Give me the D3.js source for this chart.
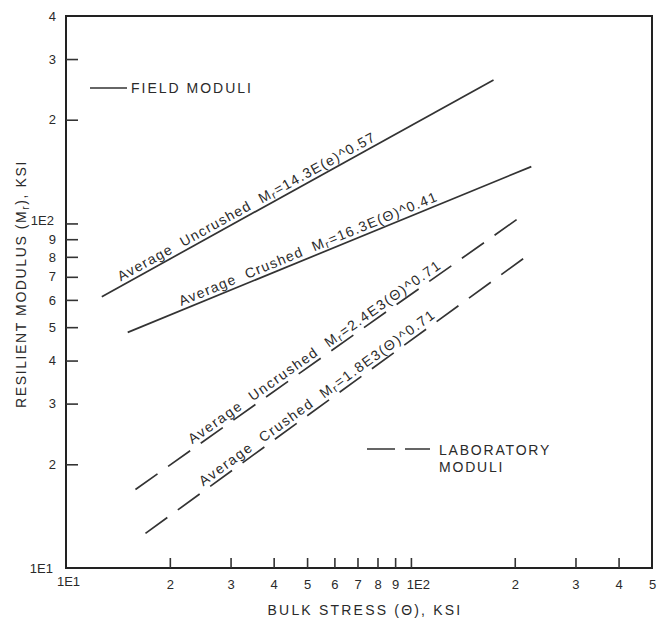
<!DOCTYPE html>
<html lang="en">
<head>
<meta charset="UTF-8">
<title>resilient-modulus</title>
<script src="https://cdn.jsdelivr.net/npm/d3@7"></script>
<style>
  body { margin: 0; background: #fff; }
  text { font-family: "Liberation Sans", Arial, sans-serif; fill: #2a2a2a; }
</style>
</head>
<body>
<svg id="chart" width="666" height="623"></svg>
<script>
// axis ticks (log scales, 1E1 .. 5E2 and 1E1 .. 4E2)
const xTickValues = [10, 20, 30, 40, 50, 60, 70, 80, 90, 100, 200, 300, 400, 500];
const xTickText = ["1E1", "2", "3", "4", "5", "6", "7", "8", "9", "1E2", "2", "3", "4", "5"];
const yTickValues = [10, 20, 30, 40, 50, 60, 70, 80, 90, 100, 200, 300, 400];
const yTickText = ["1E1", "2", "3", "4", "5", "6", "7", "8", "9", "1E2", "2", "3", "4"];

// lines: [bulk stress, modulus] end points
const fieldUncrushed = [[12.7, 61.3], [173.6, 261.0]];
const fieldCrushed = [[15.1, 48.3], [223.4, 146.2]];
const labUncrushed = [[15.9, 16.9], [204.4, 103.3]];
const labCrushed = [[17.0, 12.6], [217.0, 80.5]];

const lineNames = ["fieldUncrushed", "fieldCrushed", "labUncrushed", "labCrushed"];
const lineData = [fieldUncrushed, fieldCrushed, labUncrushed, labCrushed];
const lineDashed = [false, false, true, true];
// label text pieces: before subscript, after subscript
const labelPre = ["Average  Uncrushed  M", "Average  Crushed  M", "Average  Uncrushed  M", "Average  Crushed  M"];
const labelPost = ["=14.3E(e)^0.57", "=16.3E(\u0398)^0.41", "=2.4E3(\u0398)^0.71", "=1.8E3(\u0398)^0.71"];
const labelStartX = [14.6, 21.8, 23.6, 25.4];

let svg = d3.select("#chart");

let x = d3.scaleLog().domain([10, 500]).range([66, 652]);
let y = d3.scaleLog().domain([10, 400]).range([568, 16]);

// frame
svg.append("rect")
    .attr("x", x(10)).attr("y", y(400))
    .attr("width", x(500) - x(10)).attr("height", y(10) - y(400))
    .attr("fill", "none").attr("stroke", "#222").attr("stroke-width", 2);

let xAxis = svg.append("g")
    .attr("transform", `translate(0,${y(10)})`)
    .call(d3.axisBottom(x).tickValues(xTickValues).tickSize(-10).tickPadding(12)
        .tickFormat((d, i) => xTickText[i]));

let yAxis = svg.append("g")
    .attr("transform", `translate(${x(10)},0)`)
    .call(d3.axisLeft(y).tickValues(yTickValues).tickSize(-12).tickPadding(10)
        .tickFormat((d, i) => yTickText[i]));

[xAxis, yAxis].forEach(a => {
    a.select(".domain").remove();
    a.selectAll(".tick line").attr("stroke", "#333").attr("stroke-width", 1.6);
    a.selectAll(".tick text").attr("font-size", 13).attr("fill", "#2a2a2a")
        .attr("font-family", "Liberation Sans, Arial, sans-serif");
});
// end ticks sit on the frame
xAxis.selectAll(".tick").filter(d => d === 10 || d === 500).select("line").remove();
yAxis.selectAll(".tick").filter(d => d === 10 || d === 400).select("line").remove();
yAxis.selectAll(".tick").filter(d => d === 100).select("text").attr("dx", -2).attr("dy", "0.1em");
yAxis.selectAll(".tick").filter(d => d === 10).select("text").attr("dx", -3);
xAxis.selectAll(".tick").filter(d => d === 100).select("text").attr("dx", 7);
xAxis.selectAll(".tick").filter(d => d === 10).select("text").attr("dx", 2).attr("dy", "0.45em");

// lines
let line = d3.line().x(d => x(d[0])).y(d => y(d[1]));

lineData.forEach((pts, i) => {
    svg.append("path")
        .attr("class", lineNames[i])
        .attr("d", line(pts))
        .attr("fill", "none")
        .attr("stroke", "#333")
        .attr("stroke-width", 1.7)
        .attr("stroke-dasharray", lineDashed[i] ? "27,13" : null);
});

// labels along each line
function yOnLine(pts, xv) {
    let t = (Math.log(xv) - Math.log(pts[0][0])) / (Math.log(pts[1][0]) - Math.log(pts[0][0]));
    return Math.exp(Math.log(pts[0][1]) + t * (Math.log(pts[1][1]) - Math.log(pts[0][1])));
}

lineData.forEach((pts, i) => {
    let px = x(labelStartX[i]);
    let py = y(yOnLine(pts, labelStartX[i]));
    let angle = Math.atan2(y(pts[1][1]) - y(pts[0][1]), x(pts[1][0]) - x(pts[0][0])) * 180 / Math.PI;
    let t = svg.append("text")
        .attr("transform", `translate(${px},${py}) rotate(${angle})`)
        .attr("dy", -4)
        .attr("font-size", 14)
        .attr("letter-spacing", i < 2 ? 1.3 : 1.6)
        .attr("xml:space", "preserve")
        .style("white-space", "pre");
    t.append("tspan").text(labelPre[i]);
    t.append("tspan").attr("font-size", 10.5).attr("dy", 2).text("r");
    t.append("tspan").attr("dy", -2).text(labelPost[i]);
});

// legends
svg.append("line").attr("x1", 90).attr("x2", 127).attr("y1", 88).attr("y2", 88)
    .attr("stroke", "#333").attr("stroke-width", 1.6);
svg.append("text").attr("x", 131).attr("y", 93).attr("font-size", 14)
    .attr("letter-spacing", 2).text("FIELD MODULI");

svg.append("line").attr("x1", 367).attr("x2", 430).attr("y1", 449).attr("y2", 449)
    .attr("stroke", "#333").attr("stroke-width", 1.6).attr("stroke-dasharray", "28,10");
svg.append("text").attr("x", 439).attr("y", 455).attr("font-size", 14)
    .attr("letter-spacing", 1.8).text("LABORATORY");
svg.append("text").attr("x", 439).attr("y", 472).attr("font-size", 14)
    .attr("letter-spacing", 1.8).text("MODULI");

// axis titles
svg.append("text")
    .attr("x", (x(10) + x(500)) / 2 + 6).attr("y", 615)
    .attr("text-anchor", "middle").attr("font-size", 14).attr("letter-spacing", 2.2)
    .text("BULK STRESS (\u0398), KSI");

let yTitle = svg.append("text")
    .attr("transform", "translate(26,284) rotate(-90)")
    .attr("text-anchor", "middle").attr("font-size", 14).attr("letter-spacing", 1.6);
yTitle.append("tspan").text("RESILIENT MODULUS (M");
yTitle.append("tspan").attr("font-size", 10).attr("dy", 3).text("r");
yTitle.append("tspan").attr("dy", -3).text("), KSI");
</script>
</body>
</html>
